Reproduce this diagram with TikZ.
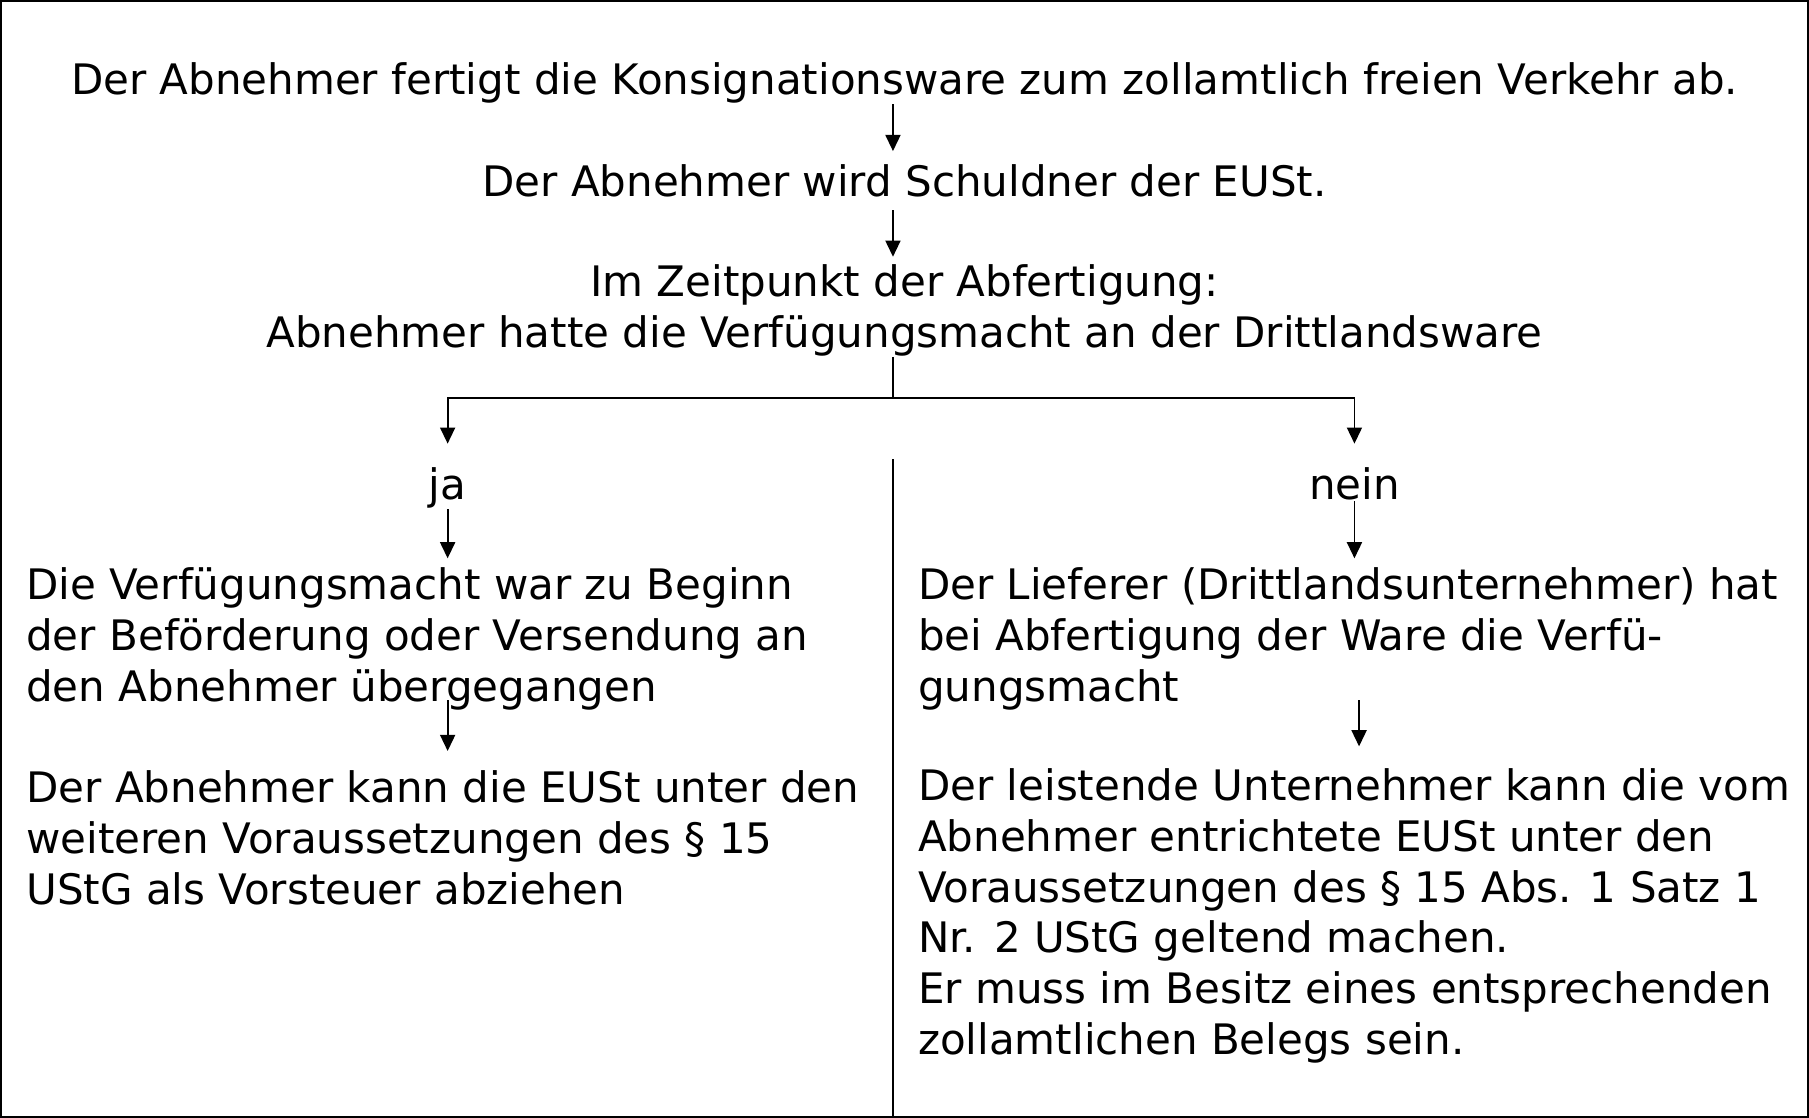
\documentclass[tikz,border=0pt]{standalone}
\usepackage{fontspec}
\setmainfont{DejaVu Sans}
\usetikzlibrary{arrows.meta,positioning}
\tikzstyle{arrow} = [line width=0.8pt,-{Triangle[length=7pt,width=6.5pt]}]
\tikzstyle{txt} = [inner sep=0pt,anchor=base]
\tikzstyle{block} = [inner sep=0pt,anchor=base west,align=left]

\begin{document}
\begin{tikzpicture}[x=0.5pt,y=-0.5pt,font=\fontsize{18.2}{22}\selectfont,line width=0.8pt]
	\useasboundingbox (0,0) rectangle (1568,969);
	\node[draw,line width=1pt,inner sep=0pt,minimum width=783pt,minimum height=483.5pt] (frame) at (784,484.5) {};
	\coordinate (axis) at (774,0);
	% obere Kette (base = letzte Zeile)
	\node[txt] (abf) at (784,82) {Der Abnehmer fertigt die Konsignationsware zum zollamtlich freien Verkehr ab.};
	\node[txt] (schuld) at (784,170) {Der Abnehmer wird Schuldner der EUSt.};
	\node[txt,align=center] (zeit) at (784,301) {Im Zeitpunkt der Abfertigung:\\Abnehmer hatte die Verfügungsmacht an der Drittlandsware};
	\draw[arrow,shorten >=5.3pt] (abf.south -| axis) -- (schuld.north -| axis);
	\draw[arrow,shorten <=5.5pt,shorten >=3pt] (schuld.south -| axis) -- (zeit.north -| axis);
	% Verzweigung
	\coordinate (split) at (774,345);
	\node[txt] (ja) at (388,433) {ja};
	\node[txt] (nein) at (1174,433) {nein};
	\draw (zeit.south -| axis) -- (split);
	\draw[arrow,shorten >=10pt] (split) -| (ja.north);
	\draw[arrow,shorten >=10pt] (split) -| (nein.north);
	\coordinate (divtop) at (774,398);
	\draw (divtop) -- (divtop |- frame.south);
	% linke Spalte
	\node[block] (ja1) at (22,608) {Die Verfügungsmacht war zu Beginn\\der Beförderung oder Versendung an\\den Abnehmer übergegangen};
	\node[block] (ja2) at (22,784) {Der Abnehmer kann die EUSt unter den\\weiteren Voraussetzungen des § 15\\UStG als Vorsteuer abziehen};
	\draw[arrow,shorten >=3.8pt] (ja) -- (ja |- ja1.north);
	\draw[arrow,shorten <=-4.7pt,shorten >=8.3pt] (ja1.south -| ja) -- (ja2.north -| ja);
	% rechte Spalte
	\node[block] (nein1) at (795,608) {Der Lieferer (Drittlandsunternehmer) hat\\bei Abfertigung der Ware die Verfü-\\gungsmacht};
	\node[block] (nein2) at (795,914) {Der leistende Unternehmer kann die vom\\Abnehmer entrichtete EUSt unter den\\Voraussetzungen des § 15 Abs. 1 Satz 1\\Nr. 2 UStG geltend machen.\\Er muss im Besitz eines entsprechenden\\zollamtlichen Belegs sein.};
	\draw[arrow,shorten >=3.8pt] (nein) -- (nein |- nein1.north);
	\draw[arrow,shorten <=-4.7pt,shorten >=9.3pt] ([xshift=2pt]nein1.south -| nein) -- ([xshift=2pt]nein2.north -| nein);
\end{tikzpicture}
\end{document}
